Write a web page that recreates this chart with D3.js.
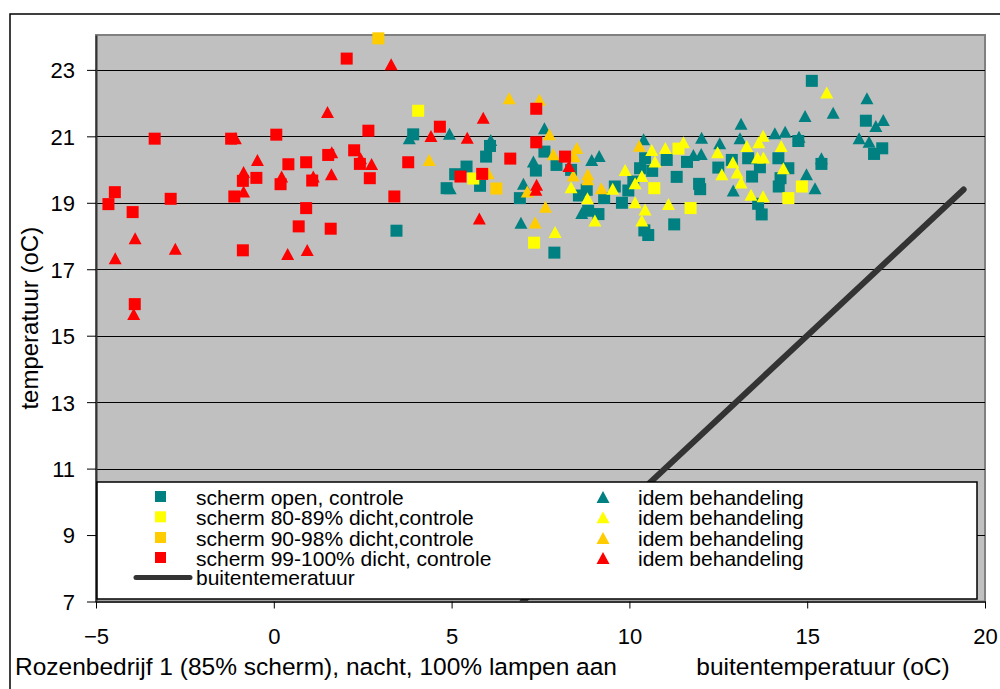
<!DOCTYPE html>
<html>
<head>
<meta charset="utf-8">
<script src="https://cdn.jsdelivr.net/npm/d3@7"></script>
<style>
  body { margin: 0; background: #fff; }
  text { font-family: "Liberation Sans", Arial, sans-serif; fill: #000; }
</style>
</head>
<body>
<div id="chart"></div>
<script>
// scherm open, controle
const tealSquares = [
  [3.45,18.16],[3.92,21.06],[4.86,19.44],[5.42,20.09],[5.10,19.86],[5.80,19.51],[6.08,20.71],[5.97,20.39],
  [7.61,20.54],[7.95,20.14],[7.37,19.97],[6.92,19.14],[7.89,17.50],[8.36,19.99],[8.58,19.22],[8.80,19.39],
  [9.29,19.14],[9.59,19.49],[9.13,18.66],[8.84,18.76],[9.79,19.00],[9.97,19.37],[10.11,19.64],[10.30,20.04],
  [10.44,20.34],[10.64,19.96],[10.42,18.17],[10.53,18.03],[11.05,20.29],[11.62,20.23],[11.33,19.78],[11.26,18.35],
  [11.96,19.57],[11.99,19.41],[12.50,20.06],[12.88,20.29],[13.34,20.34],[13.67,20.07],[13.45,19.79],[13.62,18.97],
  [13.72,18.65],[14.20,19.49],[14.25,19.74],[14.47,20.04],[14.19,20.34],[14.75,20.86],[15.40,20.17],[15.13,22.67],
  [16.65,21.47],[17.11,20.64],[16.88,20.47]
];
// idem behandeling (teal)
const tealTriangles = [
  [3.81,20.94],[4.94,21.08],[4.96,19.44],[6.10,20.89],[7.61,21.24],[7.30,20.24],[7.02,19.57],[6.95,18.40],
  [8.94,20.29],[9.15,20.41],[8.66,18.69],[10.40,20.91],[11.80,20.44],[12.03,20.96],[12.02,20.47],[12.54,20.79],
  [13.14,21.38],[13.11,20.94],[12.92,19.37],[14.09,21.09],[14.38,21.14],[14.77,20.99],[14.94,21.61],[14.98,19.86],
  [15.22,19.44],[15.40,20.34],[15.73,21.71],[16.68,22.15],[16.93,21.31],[17.14,21.49],[16.46,20.94],[16.74,20.84]
];
// scherm 80-89% dicht, controle
const yellowSquares = [
  [4.06,21.77],[5.61,19.73],[7.32,17.80],[10.70,19.44],[11.38,20.63],[11.72,18.84],[14.85,19.49],[14.47,19.14]
];
const yellowTriangles = [
  [7.91,18.12],[8.36,19.47],[8.82,19.14],[9.53,19.42],[9.03,18.47],[9.88,19.99],[10.16,19.59],[10.35,19.81],
  [10.16,19.02],[10.44,18.80],[10.35,18.47],[10.63,20.59],[10.72,20.24],[11.01,20.65],[11.52,20.82],[11.10,18.96],
  [12.48,20.52],[12.60,19.86],[12.91,20.22],[13.03,19.91],[13.14,19.61],[13.30,20.71],[13.42,19.24],[13.64,20.82],
  [13.76,21.02],[13.60,20.36],[13.77,20.36],[13.76,19.20],[14.27,20.71],[14.33,20.04],[15.55,22.32]
];
// scherm 90-98% dicht, controle
const orangeSquares = [[2.94,23.95],[6.26,19.43]];
const orangeTriangles = [
  [4.37,20.29],[6.62,22.15],[7.47,22.10],[7.75,21.06],[7.86,20.46],[6.03,19.89],[7.13,19.34],[7.35,18.41],
  [7.64,18.88],[8.52,20.65],[8.45,20.40],[8.42,19.82],[8.83,19.86],[8.83,19.71],[9.21,19.44],[10.28,20.72]
];
// scherm 99-100% dicht, controle
const redSquares = [
  [-4.65,18.96],[-4.47,19.32],[-3.97,18.72],[-3.35,20.93],[-2.90,19.12],[-3.91,15.95],[-1.20,20.93],[-1.11,19.19],
  [-0.87,19.66],[-0.49,19.75],[-0.87,17.57],[0.07,21.05],[2.05,23.34],[2.66,21.17],[4.67,21.29],[0.41,20.16],
  [0.91,20.22],[1.53,20.44],[2.26,20.58],[2.42,20.17],[2.70,19.74],[0.19,19.56],[1.08,19.67],[3.78,20.22],
  [3.39,19.19],[0.91,18.84],[0.70,18.29],[1.60,18.22],[5.25,19.79],[5.86,19.87],[7.38,21.83],[7.38,20.82],
  [6.65,20.33],[8.19,20.39]
];
const redTriangles = [
  [-4.46,17.33],[-3.90,17.93],[-3.94,15.65],[-2.77,17.62],[-1.08,20.94],[-0.46,20.29],[-0.85,19.93],[-0.85,19.34],
  [3.30,23.17],[1.51,21.73],[4.42,21.01],[1.63,20.52],[2.44,20.34],[2.75,20.17],[0.22,19.79],[1.11,19.79],
  [1.62,19.86],[0.39,17.46],[0.94,17.58],[5.44,20.96],[5.89,21.56],[5.78,18.53],[7.39,19.54],[7.37,19.39],[8.30,20.11]
];
// buitentemperatuur (y = x)
const outsideTemp = [7, 19.4];

const xTicks = [-5, 0, 5, 10, 15, 20];
const yTicks = [7, 9, 11, 13, 15, 17, 19, 21, 23];

const series = [
  { name: 'scherm open, controle', color: '#008080', shape: 'square', data: tealSquares },
  { name: 'idem behandeling', color: '#008080', shape: 'triangle', data: tealTriangles },
  { name: 'scherm 80-89% dicht,controle', color: '#FFFF00', shape: 'square', data: yellowSquares },
  { name: 'idem behandeling', color: '#FFFF00', shape: 'triangle', data: yellowTriangles },
  { name: 'scherm 90-98% dicht,controle', color: '#FFCC00', shape: 'square', data: orangeSquares },
  { name: 'idem behandeling', color: '#FFCC00', shape: 'triangle', data: orangeTriangles },
  { name: 'scherm 99-100% dicht, controle', color: '#FF0000', shape: 'square', data: redSquares },
  { name: 'idem behandeling', color: '#FF0000', shape: 'triangle', data: redTriangles }
];

const width = 1000, height = 689;
const plot = { left: 96, right: 985, top: 35, bottom: 601.5 };

const svg = d3.select('#chart').append('svg')
  .attr('width', width)
  .attr('height', height);

// outer chart frame (runs off the page right and bottom)
svg.append('rect')
  .attr('x', 10).attr('y', 14)
  .attr('width', 1000).attr('height', 700)
  .attr('fill', '#fff')
  .attr('stroke', '#000')
  .attr('stroke-width', 1.5);

const x = d3.scaleLinear().domain([-5, 20]).range([plot.left, plot.right]);
const y = d3.scaleLinear().domain([7, 24.05]).range([plot.bottom, plot.top]);

// plot background
svg.append('rect')
  .attr('x', plot.left).attr('y', plot.top)
  .attr('width', plot.right - plot.left)
  .attr('height', plot.bottom - plot.top)
  .attr('fill', '#C0C0C0')
  .attr('stroke', '#808080')
  .attr('stroke-width', 2);

// gridlines
svg.append('g')
  .selectAll('line')
  .data(yTicks.filter(d => d > 7))
  .join('line')
  .attr('x1', plot.left).attr('x2', plot.right)
  .attr('y1', d => Math.round(y(d)) + 0.5)
  .attr('y2', d => Math.round(y(d)) + 0.5)
  .attr('stroke', '#000')
  .attr('stroke-width', 1);

// axes
const yAxis = d3.axisLeft(y).tickValues(yTicks).tickSize(9).tickSizeOuter(0).tickPadding(12);
const yAxisG = svg.append('g').attr('transform', `translate(${plot.left},0)`).call(yAxis);
yAxisG.select('.domain').attr('stroke', '#333').attr('stroke-width', 2);
yAxisG.selectAll('.tick line').attr('stroke', '#000');
yAxisG.selectAll('.tick text')
  .style('font-size', '22px')
  .attr('dy', '0.36em')
  .attr('font-family', 'Liberation Sans, Arial, sans-serif');

const xAxis = d3.axisBottom(x).tickValues(xTicks).tickSize(7).tickSizeOuter(0).tickPadding(20);
const xAxisG = svg.append('g').attr('transform', `translate(0,${plot.bottom})`).call(xAxis);
xAxisG.select('.domain').attr('stroke', '#333').attr('stroke-width', 2);
xAxisG.selectAll('.tick line').attr('stroke', '#000');
xAxisG.selectAll('.tick text')
  .style('font-size', '22px')
  .attr('font-family', 'Liberation Sans, Arial, sans-serif');

// markers
const sq = 12, triW = 13, triH = 12;
const trianglePath = `M0,${-triH / 2}L${triW / 2},${triH / 2}L${-triW / 2},${triH / 2}Z`;

svg.append('clipPath').attr('id', 'plotClip')
  .append('rect')
  .attr('x', plot.left).attr('y', plot.top - 4)
  .attr('width', plot.right - plot.left)
  .attr('height', plot.bottom - plot.top + 4);

const marks = svg.append('g').attr('clip-path', 'url(#plotClip)');

series.forEach(s => {
  const g = marks.append('g');
  if (s.shape === 'square') {
    g.selectAll('rect')
      .data(s.data)
      .join('rect')
      .attr('x', d => x(d[0]) - sq / 2)
      .attr('y', d => y(d[1]) - sq / 2)
      .attr('width', sq).attr('height', sq)
      .attr('fill', s.color);
  } else {
    g.selectAll('path')
      .data(s.data)
      .join('path')
      .attr('d', trianglePath)
      .attr('transform', d => `translate(${x(d[0])},${y(d[1])})`)
      .attr('fill', s.color);
  }
});

// outside temperature line
marks.append('path')
  .datum(outsideTemp)
  .attr('d', d3.line().x(d => x(d)).y(d => y(d)))
  .attr('fill', 'none')
  .attr('stroke', '#333')
  .attr('stroke-width', 6)
  .attr('stroke-linecap', 'round');

// legend
const legend = svg.append('g');
legend.append('rect')
  .attr('x', 97).attr('y', 482)
  .attr('width', 880).attr('height', 117)
  .attr('fill', '#fff')
  .attr('stroke', '#000')
  .attr('stroke-width', 1.5);

const rowY = [497, 517.3, 538, 558, 577.5];
series.forEach((s, i) => {
  const row = Math.floor(i / 2), col = i % 2;
  const mx = col === 0 ? 161 : 603;
  const tx = col === 0 ? 196 : 638;
  const cy = rowY[row];
  if (s.shape === 'square') {
    legend.append('rect')
      .attr('x', mx - 6).attr('y', cy - 6)
      .attr('width', 11).attr('height', 11)
      .attr('fill', s.color);
  } else {
    legend.append('path')
      .attr('d', trianglePath)
      .attr('transform', `translate(${mx},${cy})`)
      .attr('fill', s.color);
  }
  legend.append('text')
    .attr('x', tx).attr('y', cy + 7.5)
    .style('font-size', '21px')
    .text(s.name);
});
legend.append('line')
  .attr('x1', 136).attr('x2', 190)
  .attr('y1', rowY[4]).attr('y2', rowY[4])
  .attr('stroke', '#333')
  .attr('stroke-width', 5)
  .attr('stroke-linecap', 'round');
legend.append('text')
  .attr('x', 196).attr('y', rowY[4] + 7.5)
  .style('font-size', '21px')
  .text('buitentemeratuur');

// titles
svg.append('text')
  .attr('transform', `translate(38,${(plot.top + plot.bottom) / 2}) rotate(-90)`)
  .attr('text-anchor', 'middle')
  .style('font-size', '24px')
  .text('temperatuur (oC)');

svg.append('text')
  .attr('x', 15).attr('y', 675)
  .style('font-size', '24.5px')
  .text('Rozenbedrijf 1 (85% scherm), nacht, 100% lampen aan');

svg.append('text')
  .attr('x', 823).attr('y', 675)
  .attr('text-anchor', 'middle')
  .style('font-size', '24.5px')
  .text('buitentemperatuur (oC)');
</script>
</body>
</html>
